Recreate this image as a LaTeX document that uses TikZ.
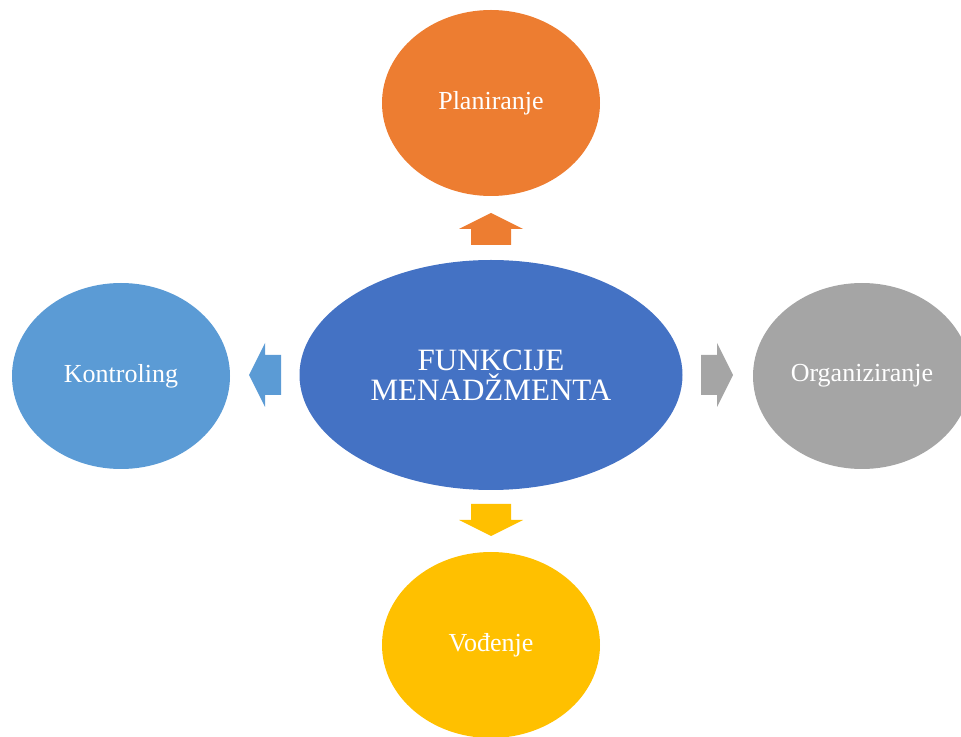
\documentclass[tikz,border=0pt]{standalone}
\usepackage{fontspec}
\setmainfont{Liberation Serif}
\usepackage{xcolor}
\usepackage{tikz}
\usetikzlibrary{shapes.geometric}
\definecolor{plan}{HTML}{ED7D31}
\definecolor{core}{HTML}{4472C4}
\definecolor{kontr}{HTML}{5B9BD5}
\definecolor{org}{HTML}{A5A5A5}
\definecolor{vod}{HTML}{FFC000}
\tikzset{
  blob/.style={ellipse, inner sep=0pt, text=white, font=\fontsize{19.5}{22}\selectfont,
    minimum width=218*0.75pt, minimum height=186*0.75pt},
  hub/.style={ellipse, inner sep=0pt, text=white, fill=core, align=center,
    font=\fontsize{23.3}{22.5}\selectfont,
    minimum width=383*0.75pt, minimum height=230*0.75pt},
  blockarrow/.pic={
    \fill[pic actions] (0,16) -- (32,0) -- (20,0) -- (20,-16)
      -- (-20,-16) -- (-20,0) -- (-32,0) -- cycle;
  },
}

\begin{document}
\begin{tikzpicture}[x=0.75pt,y=0.75pt]
  \useasboundingbox (0,0) rectangle (961,736);

  \node[hub] (hub) at (491,361) {FUNKCIJE\\MENADŽMENTA};

  \node[blob,fill=plan] (planiranje) at (491,633) {Planiranje};
  \node[blob,fill=vod] (vodjenje) at (491,91) {Vođenje};
  \node[blob,fill=kontr] (kontroling) at (121,360) {Kontroling};
  \node[blob,fill=org] (organiziranje) at (862,360) {Organiziranje};

  % block arrows out of the hub
  \pic[fill=plan] at (491,507) {blockarrow};
  \pic[fill=vod,rotate=180] at (491,216) {blockarrow};
  \pic[fill=kontr,rotate=90] at (265,361) {blockarrow};
  \pic[fill=org,rotate=-90] at (717,361) {blockarrow};
\end{tikzpicture}
\end{document}
